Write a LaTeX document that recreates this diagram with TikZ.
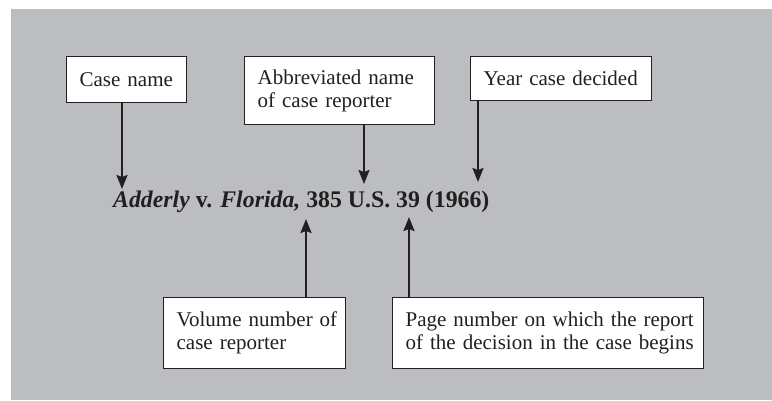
\documentclass[tikz,border=0pt]{standalone}
\usepackage{fontspec}
\setmainfont{Liberation Serif}
\usetikzlibrary{arrows.meta}
\definecolor{bggray}{RGB}{188,189,193}
\definecolor{ink}{RGB}{35,31,32}
\begin{document}
\begin{tikzpicture}[x=1pt,y=-1pt,
  labelbox/.style={draw=ink,line width=1.3pt,fill=white,rectangle,text=ink,
    font=\fontsize{21}{23}\selectfont,align=left,inner xsep=13pt,inner ysep=0pt,
    anchor=north west},
  pointer/.style={draw=ink,line width=2pt,-{Stealth[length=14pt,width=11pt,inset=2pt]}}]
\useasboundingbox (0,0) rectangle (772,400);
\fill[bggray] (11,9) rectangle (772,400);
% boxes
\node[labelbox,minimum width=120pt,minimum height=46pt,text width=94pt] (casename) at (66,56) {\mbox{Case name}};
\node[labelbox,minimum width=190pt,minimum height=68pt,text width=164pt] (abbr) at (244,56) {\mbox{Abbreviated name}\\\mbox{of case reporter}};
\node[labelbox,minimum width=181pt,minimum height=44pt,text width=155pt] (year) at (470,56) {\mbox{Year case decided}};
\node[labelbox,minimum width=182pt,minimum height=71pt,text width=156pt] (volume) at (163,297) {\mbox{Volume number of}\\\mbox{case reporter}};
\node[labelbox,minimum width=311pt,minimum height=71pt,text width=285pt] (page) at (392,297) {\mbox{Page number on which the report}\\\mbox{of the decision in the case begins}};
% citation
\node[anchor=base west,inner sep=0pt,text=ink,font=\fontsize{23.8}{26}\selectfont\bfseries] (cite) at (113,207)
  {\textit{Adderly} v. \textit{Florida,} 385 U.S. 39 (1966)};
% tips
\coordinate (t1) at (122,189);
\coordinate (t2) at (364,184);
\coordinate (t3) at (478,182);
\coordinate (t4) at (306,219);
\coordinate (t5) at (409,217);
\draw[pointer] (casename.south -| t1) -- (t1);
\draw[pointer] (abbr.south -| t2) -- (t2);
\draw[pointer] (year.south -| t3) -- (t3);
\draw[pointer] (volume.north -| t4) -- (t4);
\draw[pointer] (page.north -| t5) -- (t5);
\end{tikzpicture}
\end{document}
